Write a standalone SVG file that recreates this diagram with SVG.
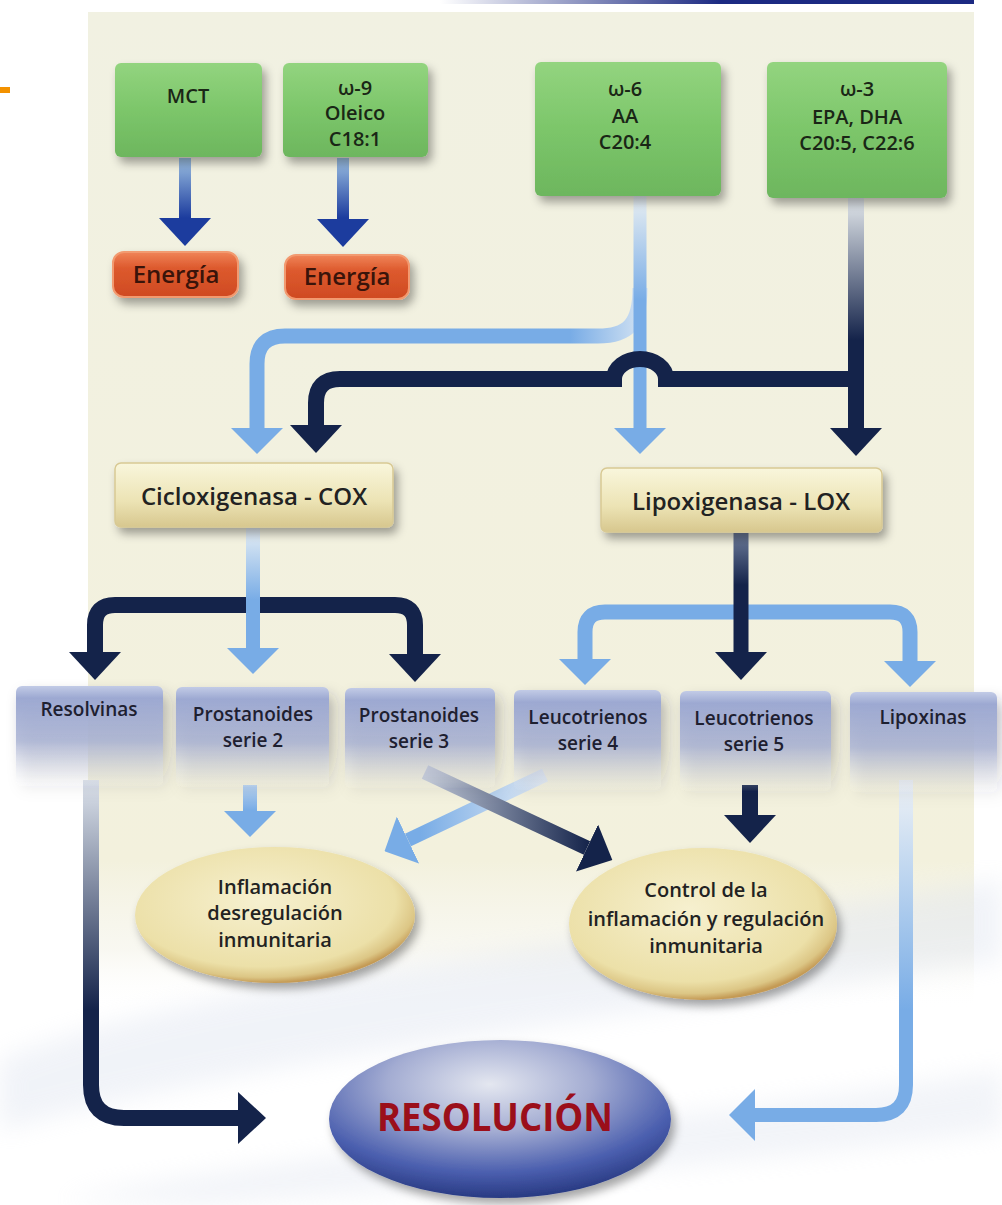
<svg xmlns="http://www.w3.org/2000/svg" width="1002" height="1205" viewBox="0 0 1002 1205">
<style>
.t{font-family:"Open Sans","Noto Sans","Liberation Sans",sans-serif;font-weight:600;fill:#1d1d1b;text-anchor:middle}
.tg{font-size:20px;fill:#1a2616}
.te{font-size:24px;fill:#3a140a}
.tc{font-size:24px;fill:#222}
.tb{font-size:19px;fill:#1e2030}
.to{font-size:20px;fill:#222}
.dk{fill:none;stroke:#14234a;stroke-width:16}
.lt{fill:none;stroke:#78ace6;stroke-width:15}
</style>
<defs>
<filter id="sh" x="-20%" y="-20%" width="150%" height="160%"><feDropShadow dx="4" dy="6" stdDeviation="5" flood-color="#000" flood-opacity="0.35"/></filter>
<filter id="shb" x="-20%" y="-20%" width="150%" height="170%"><feDropShadow dx="5" dy="8" stdDeviation="7" flood-color="#2a2a40" flood-opacity="0.3"/></filter>
<filter id="blur" x="-20%" y="-50%" width="140%" height="200%"><feGaussianBlur stdDeviation="12"/></filter>
<linearGradient id="gPanel" x1="0" y1="12" x2="0" y2="1010" gradientUnits="userSpaceOnUse"><stop offset="0" stop-color="#f1f1e2"/><stop offset="0.85" stop-color="#f3f1dd"/><stop offset="0.94" stop-color="#f4f3e8" stop-opacity="0.6"/><stop offset="1" stop-color="#ffffff" stop-opacity="0"/></linearGradient>
<linearGradient id="gTop" x1="440" y1="0" x2="720" y2="0" gradientUnits="userSpaceOnUse"><stop offset="0" stop-color="#ffffff"/><stop offset="1" stop-color="#1c2a82"/></linearGradient>
<linearGradient id="gGreen" x1="0" y1="0" x2="0" y2="1"><stop offset="0" stop-color="#93d47f"/><stop offset="0.5" stop-color="#7cc66a"/><stop offset="1" stop-color="#6db65e"/></linearGradient>
<linearGradient id="gEn" x1="0" y1="0" x2="0" y2="1"><stop offset="0" stop-color="#f08458"/><stop offset="0.35" stop-color="#dd5a2e"/><stop offset="1" stop-color="#cf4a22"/></linearGradient>
<linearGradient id="gCox" x1="0" y1="0" x2="0" y2="1"><stop offset="0" stop-color="#f9f6dc"/><stop offset="0.6" stop-color="#ece3b4"/><stop offset="1" stop-color="#d7c78e"/></linearGradient>
<linearGradient id="gBlue" x1="0" y1="0" x2="0" y2="1"><stop offset="0" stop-color="#c2cbe6"/><stop offset="0.12" stop-color="#9da9d2"/><stop offset="0.55" stop-color="#aab3d4" stop-opacity="0.85"/><stop offset="1" stop-color="#e4e6ec" stop-opacity="0"/></linearGradient>
<radialGradient id="gCream" cx="0.45" cy="0.4" r="0.6"><stop offset="0" stop-color="#f6f0cf"/><stop offset="0.8" stop-color="#ece0a8"/><stop offset="0.93" stop-color="#dcc685"/><stop offset="1" stop-color="#c49a55"/></radialGradient>
<radialGradient id="gRes" cx="0.47" cy="0.28" r="0.75"><stop offset="0" stop-color="#e4e7f0"/><stop offset="0.4" stop-color="#a3acd2"/><stop offset="0.75" stop-color="#4a5eae"/><stop offset="1" stop-color="#22337a"/></radialGradient>
<linearGradient id="aEn1" x1="0" y1="158" x2="0" y2="218" gradientUnits="userSpaceOnUse"><stop offset="0" stop-color="#9cc0e2"/><stop offset="1" stop-color="#1c3c9e"/></linearGradient>
<linearGradient id="a6v" x1="0" y1="195" x2="0" y2="300" gradientUnits="userSpaceOnUse"><stop offset="0" stop-color="#e9eff2"/><stop offset="1" stop-color="#78ace6"/></linearGradient>
<linearGradient id="a6b" x1="640" y1="0" x2="570" y2="0" gradientUnits="userSpaceOnUse"><stop offset="0" stop-color="#cfe0f2"/><stop offset="1" stop-color="#78ace6"/></linearGradient>
<linearGradient id="a3v" x1="0" y1="198" x2="0" y2="340" gradientUnits="userSpaceOnUse"><stop offset="0" stop-color="#e3e8ec"/><stop offset="1" stop-color="#14234a"/></linearGradient>
<linearGradient id="aCox" x1="0" y1="528" x2="0" y2="600" gradientUnits="userSpaceOnUse"><stop offset="0" stop-color="#e6eef4"/><stop offset="1" stop-color="#78ace6"/></linearGradient>
<linearGradient id="aLox" x1="0" y1="533" x2="0" y2="585" gradientUnits="userSpaceOnUse"><stop offset="0" stop-color="#6d7c9a"/><stop offset="1" stop-color="#14234a"/></linearGradient>
<linearGradient id="aP2" x1="0" y1="785" x2="0" y2="810" gradientUnits="userSpaceOnUse"><stop offset="0" stop-color="#b9d3ef"/><stop offset="1" stop-color="#78ace6"/></linearGradient>
<linearGradient id="aD" x1="425" y1="0" x2="590" y2="0" gradientUnits="userSpaceOnUse"><stop offset="0" stop-color="#c3cbda"/><stop offset="1" stop-color="#14234a"/></linearGradient>
<linearGradient id="aL" x1="545" y1="0" x2="420" y2="0" gradientUnits="userSpaceOnUse"><stop offset="0" stop-color="#e1eaf4"/><stop offset="1" stop-color="#78ace6"/></linearGradient>
<linearGradient id="aRv" x1="0" y1="780" x2="0" y2="1010" gradientUnits="userSpaceOnUse"><stop offset="0" stop-color="#dde3ec"/><stop offset="1" stop-color="#14234a"/></linearGradient>
<linearGradient id="aLv" x1="0" y1="780" x2="0" y2="1010" gradientUnits="userSpaceOnUse"><stop offset="0" stop-color="#eef2f6"/><stop offset="1" stop-color="#78ace6"/></linearGradient>
<marker id="hd" viewBox="0 0 28 52" refX="0" refY="26" markerWidth="28" markerHeight="52" markerUnits="userSpaceOnUse" orient="auto"><path d="M0,0 L28,26 L0,52Z" fill="#14234a"/></marker>
<marker id="hl" viewBox="0 0 26 52" refX="0" refY="26" markerWidth="26" markerHeight="52" markerUnits="userSpaceOnUse" orient="auto"><path d="M0,0 L26,26 L0,52Z" fill="#78ace6"/></marker>
<marker id="hb" viewBox="0 0 28 52" refX="0" refY="26" markerWidth="28" markerHeight="52" markerUnits="userSpaceOnUse" orient="auto"><path d="M0,0 L28,26 L0,52Z" fill="#1c3c9e"/></marker>
</defs>

<g id="background">
<rect x="0" y="0" width="1002" height="1205" fill="#ffffff"/>
<rect x="88" y="12" width="886" height="1000" fill="url(#gPanel)"/>
<path d="M0,1060 C200,980 500,960 1002,880 L1002,960 C600,1020 300,1050 0,1130 Z" fill="#d7deec" opacity="0.35" filter="url(#blur)"/>
<path d="M60,1200 C300,1150 700,1120 1002,1070 L1002,1130 C700,1170 400,1190 200,1205 Z" fill="#dfe4ef" opacity="0.4" filter="url(#blur)"/>
<rect x="440" y="0" width="534" height="4" fill="url(#gTop)"/>
<rect x="0" y="87" width="10" height="6" fill="#f39200"/>
</g>

<g id="connectors">
<path d="M185,158 L185,218" stroke="url(#aEn1)" stroke-width="12" fill="none" marker-end="url(#hb)"/>
<path d="M343,158 L343,219" stroke="url(#aEn1)" stroke-width="12" fill="none" marker-end="url(#hb)"/>
<path d="M640,288 C640,324 628,336 598,336 L285,336 Q257,336 257,364 L257,428" stroke="url(#a6b)" stroke-width="15" fill="none" marker-end="url(#hl)"/>
<path d="M640,195 L640,428" stroke="url(#a6v)" stroke-width="13" fill="none" marker-end="url(#hl)"/>
<path d="M856,379 L666,379 A26 20 0 0 0 614,379 L340,379 Q316,379 316,403 L316,425" class="dk" marker-end="url(#hd)"/>
<path d="M856,198 L856,428" stroke="url(#a3v)" stroke-width="16" fill="none" marker-end="url(#hd)"/>
<path d="M255,605 L115,605 Q95,605 95,625 L95,652" class="dk" marker-end="url(#hd)"/>
<path d="M255,605 L395,605 Q415,605 415,625 L415,654" class="dk" marker-end="url(#hd)"/>
<path d="M253,528 L253,648" stroke="url(#aCox)" stroke-width="14" fill="none" marker-end="url(#hl)"/>
<path d="M741,612 L605,612 Q585,612 585,632 L585,659" class="lt" marker-end="url(#hl)"/>
<path d="M741,612 L890,612 Q910,612 910,632 L910,661" class="lt" marker-end="url(#hl)"/>
<path d="M741,533 L741,652" stroke="url(#aLox)" stroke-width="15" fill="none" marker-end="url(#hd)"/>
<path d="M250,785 L250,811" stroke="url(#aP2)" stroke-width="14" fill="none" marker-end="url(#hl)"/>
<path d="M750,785 L750,815" class="dk" stroke-width="15" marker-end="url(#hd)"/>
<path d="M545,775 L408,840" stroke="url(#aL)" stroke-width="14" fill="none" marker-end="url(#hl)"/>
<path d="M425,772 L587,848" stroke="url(#aD)" stroke-width="15" fill="none" marker-end="url(#hd)"/>
<path d="M91,780 L91,1085 Q91,1118 124,1118 L238,1118" stroke="url(#aRv)" stroke-width="16" fill="none" marker-end="url(#hd)"/>
<path d="M906,780 L906,1085 Q906,1115 876,1115 L755,1115" stroke="url(#aLv)" stroke-width="14" fill="none" marker-end="url(#hl)"/>
</g>

<g id="node-mct"><rect x="115" y="63" width="147" height="94" rx="6" fill="url(#gGreen)" filter="url(#sh)"/><text class="t tg" x="188" y="103">MCT</text></g>
<g id="node-omega9"><rect x="283" y="63" width="145" height="94" rx="6" fill="url(#gGreen)" filter="url(#sh)"/><text class="t tg" x="355" y="95">ω-9</text><text class="t tg" x="355" y="120">Oleico</text><text class="t tg" x="355" y="146">C18:1</text></g>
<g id="node-omega6"><rect x="535" y="62" width="186" height="134" rx="6" fill="url(#gGreen)" filter="url(#sh)"/><text class="t tg" x="625" y="96">ω-6</text><text class="t tg" x="625" y="123">AA</text><text class="t tg" x="625" y="149">C20:4</text></g>
<g id="node-omega3"><rect x="767" y="62" width="180" height="136" rx="6" fill="url(#gGreen)" filter="url(#sh)"/><text class="t tg" x="857" y="96">ω-3</text><text class="t tg" x="857" y="124">EPA, DHA</text><text class="t tg" x="857" y="150">C20:5, C22:6</text></g>
<g id="node-energia1"><rect x="113" y="252" width="125" height="45" rx="11" fill="url(#gEn)" stroke="#f29a70" stroke-width="2" filter="url(#sh)"/><text class="t te" x="176" y="283">Energía</text></g>
<g id="node-energia2"><rect x="285" y="255" width="124" height="44" rx="11" fill="url(#gEn)" stroke="#f29a70" stroke-width="2" filter="url(#sh)"/><text class="t te" x="347" y="285">Energía</text></g>
<g id="node-cox"><rect x="115" y="463" width="278" height="64" rx="6" fill="url(#gCox)" stroke="#d8c994" stroke-width="1.5" filter="url(#sh)"/><text class="t tc" x="254" y="505">Cicloxigenasa - COX</text></g>
<g id="node-lox"><rect x="601" y="468" width="281" height="64" rx="6" fill="url(#gCox)" stroke="#d8c994" stroke-width="1.5" filter="url(#sh)"/><text class="t tc" x="741" y="510">Lipoxigenasa - LOX</text></g>
<g id="node-resolvinas"><rect x="16" y="686" width="147" height="100" rx="6" fill="url(#gBlue)" filter="url(#shb)"/><text class="t tb" x="89" y="716">Resolvinas</text></g>
<g id="node-prost2"><rect x="176" y="687" width="153" height="100" rx="6" fill="url(#gBlue)" filter="url(#shb)"/><text class="t tb" x="253" y="721">Prostanoides</text><text class="t tb" x="253" y="747">serie 2</text></g>
<g id="node-prost3"><rect x="345" y="688" width="150" height="100" rx="6" fill="url(#gBlue)" filter="url(#shb)"/><text class="t tb" x="419" y="722">Prostanoides</text><text class="t tb" x="419" y="748">serie 3</text></g>
<g id="node-leuco4"><rect x="514" y="690" width="147" height="100" rx="6" fill="url(#gBlue)" filter="url(#shb)"/><text class="t tb" x="588" y="724">Leucotrienos</text><text class="t tb" x="588" y="750">serie 4</text></g>
<g id="node-leuco5"><rect x="680" y="691" width="151" height="100" rx="6" fill="url(#gBlue)" filter="url(#shb)"/><text class="t tb" x="754" y="725">Leucotrienos</text><text class="t tb" x="754" y="751">serie 5</text></g>
<g id="node-lipoxinas"><rect x="850" y="692" width="147" height="100" rx="6" fill="url(#gBlue)" filter="url(#shb)"/><text class="t tb" x="923" y="724">Lipoxinas</text></g>
<g id="node-inflamacion"><ellipse cx="275" cy="915" rx="140" ry="68" fill="url(#gCream)" filter="url(#sh)"/><text class="t to" x="275" y="894">Inflamación</text><text class="t to" x="275" y="920">desregulación</text><text class="t to" x="275" y="947">inmunitaria</text></g>
<g id="node-control"><ellipse cx="703" cy="924" rx="134" ry="76" fill="url(#gCream)" filter="url(#sh)"/><text class="t to" x="706" y="897">Control de la</text><text class="t to" x="706" y="926">inflamación y regulación</text><text class="t to" x="706" y="953">inmunitaria</text></g>
<g id="node-resolucion"><ellipse cx="500" cy="1119" rx="171" ry="79" fill="url(#gRes)" filter="url(#sh)"/><text x="495" y="1131" font-family="'Open Sans','Liberation Sans',sans-serif" font-weight="700" font-size="40" fill="#9b0f1a" text-anchor="middle" textLength="236" lengthAdjust="spacingAndGlyphs">RESOLUCIÓN</text></g>
</svg>
